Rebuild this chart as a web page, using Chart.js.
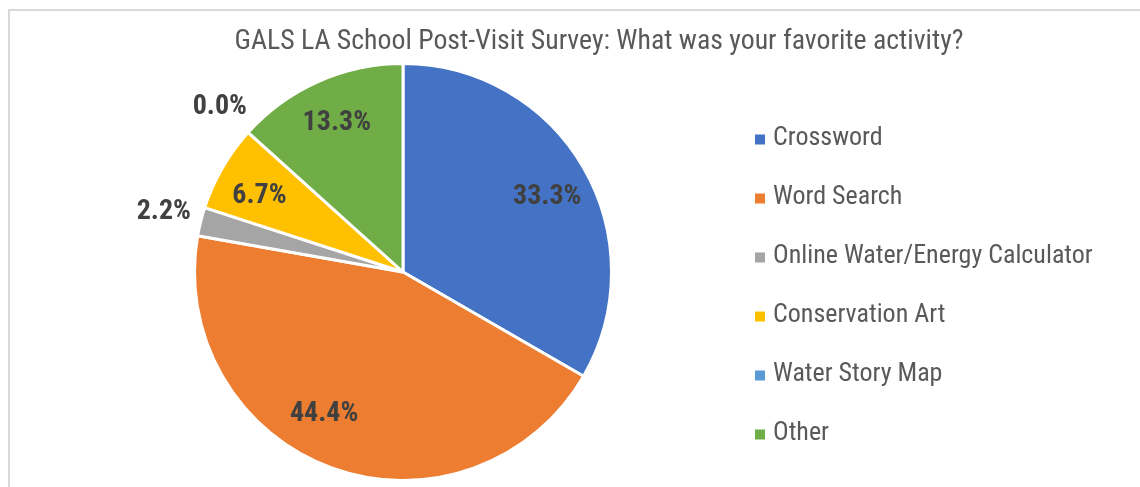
<!DOCTYPE html>
<html>
<head>
<meta charset="utf-8">
<script src="https://cdn.jsdelivr.net/npm/chart.js@4/dist/chart.umd.min.js"></script>
<style>
    html, body { margin: 0; padding: 0; background: #fff; }
    #wrap { width: 1140px; height: 487px; }
</style>
</head>
<body>
<div id="wrap"><canvas id="activityChart" width="1140" height="487"></canvas></div>
<script>
const chartTitle = 'GALS LA School Post-Visit Survey: What was your favorite activity?';
const activities = ['Crossword', 'Word Search', 'Online Water/Energy Calculator', 'Conservation Art', 'Water Story Map', 'Other'];
const responses = [15, 20, 1, 3, 0, 6];
const sliceColors = ['#4472C4', '#ED7D31', '#A5A5A5', '#FFC000', '#5B9BD5', '#70AD47'];

const FONT = '"Liberation Sans Narrow", "Arial Narrow", "Roboto Condensed", "Liberation Sans", sans-serif';

// frame, title and legend on the right
const decorations = {
    id: 'decorations',
    beforeDraw(chart) {
        const ctx = chart.ctx;
        ctx.save();
        ctx.fillStyle = '#fff';
        ctx.fillRect(0, 0, chart.width, chart.height);
        ctx.strokeStyle = '#d9d9d9';
        ctx.lineWidth = 2;
        ctx.beginPath();
        ctx.moveTo(9, chart.height);
        ctx.lineTo(9, 10);
        ctx.lineTo(chart.width, 10);
        ctx.stroke();
        ctx.restore();
    },
    afterDraw(chart) {
        const ctx = chart.ctx;
        ctx.save();
        ctx.fillStyle = '#595959';
        ctx.font = '27.8px ' + FONT;
        ctx.textAlign = 'center';
        ctx.textBaseline = 'alphabetic';
        ctx.fillText(chartTitle, 599, 49);

        ctx.textAlign = 'left';
        ctx.textBaseline = 'middle';
        ctx.font = '26px ' + FONT;
        activities.forEach((name, i) => {
            const y = 138.5 + i * 59;
            ctx.fillStyle = sliceColors[i];
            ctx.fillRect(755, y - 4, 10, 10);
            ctx.fillStyle = '#595959';
            ctx.fillText(name, 773, y);
        });
        ctx.restore();
    }
};

// percentage labels: inside the slice, or just outside for thin slices
const percentLabels = {
    id: 'percentLabels',
    afterDatasetsDraw(chart, args, opts) {
        const ctx = chart.ctx;
        const meta = chart.getDatasetMeta(0);
        const values = chart.data.datasets[0].data;
        const total = values.reduce((a, b) => a + b, 0);
        ctx.save();
        ctx.font = 'bold 28px ' + FONT;
        ctx.fillStyle = '#404040';
        ctx.textAlign = 'center';
        ctx.textBaseline = 'middle';
        meta.data.forEach((arc, i) => {
            const pct = values[i] / total * 100;
            let mid = (arc.startAngle + arc.endAngle) / 2 + (opts.nudge[i] || 0) * Math.PI / 180;
            const r = pct < 3 ? arc.outerRadius + 38 : arc.outerRadius * 0.78;
            const x = arc.x + Math.cos(mid) * r;
            const y = arc.y + Math.sin(mid) * r;
            ctx.fillText(pct.toFixed(1) + '%', x, y);
        });
        ctx.restore();
    }
};

const ctx = document.getElementById('activityChart').getContext('2d');
const activityChart = new Chart(ctx, {
    type: 'pie',
    data: {
        labels: activities,
        datasets: [{
            data: responses,
            backgroundColor: sliceColors,
            borderColor: '#fff',
            borderWidth: 3,
            hoverOffset: 0
        }]
    },
    options: {
        responsive: false,
        animation: false,
        layout: {
            padding: { left: 193, right: 527, top: 62, bottom: 5 }
        },
        plugins: {
            legend: { display: false },
            title: { display: false },
            tooltip: { enabled: false },
            percentLabels: { nudge: { 0: 2.5, 1: 9, 3: -2 } }
        }
    },
    plugins: [decorations, percentLabels]
});
</script>
</body>
</html>
